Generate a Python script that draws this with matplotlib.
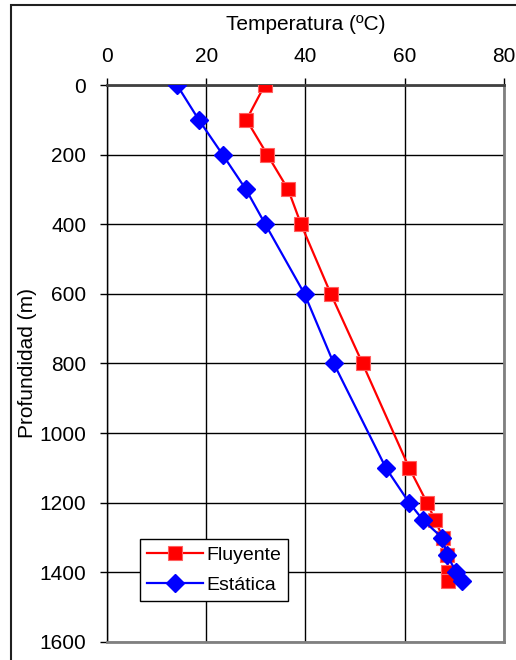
"""
Perfil de temperatura vs profundidad: pozo fluyente y estático
"""
import numpy as np
from matplotlib import pyplot as plt
from matplotlib.patches import Rectangle

plt.rcParams['font.family'] = ['Liberation Sans', 'DejaVu Sans']

# profundidad (m) y temperatura (ºC)
depth_fluyente = [0, 100, 200, 300, 400, 600, 800, 1100, 1200, 1250, 1300, 1350, 1400, 1425]
temp_fluyente = [31.8, 28.1, 32.3, 36.5, 39.1, 45.1, 51.5, 60.9, 64.5, 66.1, 67.7, 68.5, 68.8, 68.8]

depth_estatica = [0, 100, 200, 300, 400, 600, 800, 1100, 1200, 1250, 1300, 1350, 1400, 1425]
temp_estatica = [14.1, 18.5, 23.3, 28.0, 31.9, 39.8, 45.7, 56.2, 60.9, 63.7, 67.5, 68.5, 70.4, 71.6]

x_ticks = [0, 20, 40, 60, 80]
y_ticks = [0, 200, 400, 600, 800, 1000, 1200, 1400, 1600]

fig = plt.figure(figsize=(5.16, 6.6), dpi=100)
ax = fig.add_axes([0.2074, 0.0273, 0.7693, 0.8439])

# marco exterior del gráfico
fig.patches.append(Rectangle((11 / 516, -0.1), 1.2, 1 - 5 / 660 + 0.1, transform=fig.transFigure,
                             fill=False, edgecolor='#202020', linewidth=1.5, zorder=0))

ax.plot(temp_fluyente, depth_fluyente, color='red', linewidth=1.6, marker='s', markersize=10.5,
        markerfacecolor='red', markeredgecolor='#ff6060', markeredgewidth=0.8, label='Fluyente',
        zorder=3)
ax.plot(temp_estatica, depth_estatica, color='blue', linewidth=1.6, marker='D', markersize=9.5,
        markerfacecolor='blue', markeredgecolor='blue', label='Estática', zorder=4)

ax.set_xlim(0, 80)
ax.set_ylim(1600, 0)
ax.set_xticks(x_ticks)
ax.set_yticks(y_ticks)
ax.xaxis.tick_top()
ax.xaxis.set_label_position('top')
ax.set_xlabel('Temperatura (ºC)', fontsize=15, labelpad=12)
ax.set_ylabel('Profundidad (m)', fontsize=15, labelpad=2)
ax.tick_params(axis='both', labelsize=15, direction='out', length=5, width=1, color='black')
ax.tick_params(axis='x', pad=9)
ax.tick_params(axis='y', pad=10)

ax.grid(True, color='black', linewidth=1)
ax.set_axisbelow(True)
for side in ('right', 'bottom'):
    ax.spines[side].set_color('#808080')
    ax.spines[side].set_linewidth(2)
ax.spines['top'].set_color('#404040')
ax.spines['top'].set_linewidth(2)
ax.spines['left'].set_color('black')
ax.spines['left'].set_linewidth(1)

leg = ax.legend(loc='lower left', bbox_to_anchor=(0.083, 0.074), borderaxespad=0, fontsize=14,
                fancybox=False, framealpha=1, edgecolor='black', handlelength=2.9,
                handletextpad=0.15, borderpad=0.35, labelspacing=0.65)
leg.get_frame().set_linewidth(1)

plt.savefig('out.png', dpi=100)
